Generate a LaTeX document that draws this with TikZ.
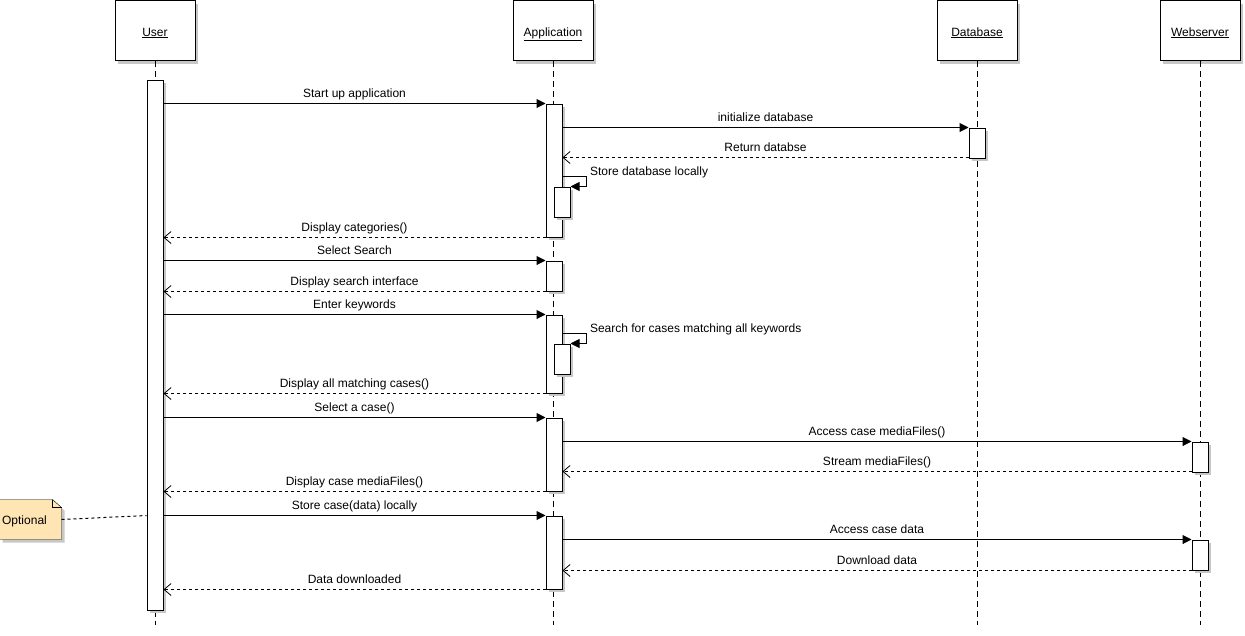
\documentclass[tikz,border=0pt]{standalone}
\usepackage{fontspec}
\setmainfont{Liberation Sans}
\usetikzlibrary{arrows.meta,shadows,backgrounds}
\definecolor{notefill}{HTML}{FFE5B4}
\tikzset{
  shd/.style={general shadow={fill=black!22,shadow xshift=3pt,shadow yshift=-3pt}},
  head/.style={draw,fill=white,shd,minimum width=80pt,minimum height=60pt,inner sep=0,text height=13pt,text depth=2pt},
  bar/.style={draw,fill=white,shd,minimum width=16pt,inner sep=0},
  life/.style={dash pattern=on 6pt off 4pt},
  call/.style={-{Triangle[length=9pt,width=9pt]}},
  ret/.style={dash pattern=on 3pt off 3pt,-{Straight Barb[length=7pt,width=12pt,line width=.8pt]}},
  lbl/.style={above,inner sep=2.5pt,text depth=3pt},
  selflbl/.style={anchor=base west,inner sep=0,xshift=3pt,yshift=1pt},
  note/.style={minimum width=61pt,minimum height=39pt,inner sep=0,text height=12.5pt,text depth=2.5pt}
}
\begin{document}
\begin{tikzpicture}[x=1pt,y=-1pt,line width=1pt,font=\fontsize{12}{14}\selectfont]
\useasboundingbox (0,0) rectangle (1245,635);
\coordinate (bot) at (0,625);
\node[head] (user) at (155,30.5) {\underline{User}};
\node[head] (app) at (553,30.5) {\underline{Application}};
\node[head] (db) at (977,30.5) {\underline{Database}};
\node[head] (web) at (1200,30.5) {\underline{Webserver}};
\foreach \l in {user,app,db,web}
  \draw[life] (\l) -- (\l |- bot);

\node[bar,minimum height=530pt] (ub) at (155,345) {};
\node[bar,minimum height=133pt] (a1) at (554,170.5) {};
\node[bar,minimum height=30pt] (n1) at (562,202) {};
\node[bar,minimum height=30pt] (a2) at (554,276) {};
\node[bar,minimum height=78pt] (a3) at (554,354) {};
\node[bar,minimum height=30pt] (n2) at (562,359) {};
\node[bar,minimum height=73pt] (a4) at (554,454.5) {};
\node[bar,minimum height=73pt] (a5) at (554,552.5) {};
\node[bar,minimum height=30pt] (d1) at (977,143) {};
\node[bar,minimum height=30pt] (w1) at (1200,457) {};
\node[bar,minimum height=30pt] (w2) at (1200,555) {};

\draw[call] (a1.north west -| ub.east) -- node[lbl]{Start up application} (a1.north west);
\draw[call] (d1.north west -| a1.east) -- node[lbl]{initialize database} (d1.north west);
\draw[ret] ([yshift=1pt]d1.south west) -- node[lbl]{Return databse} ([yshift=1pt]d1.south west -| a1.east);
\draw[call] ([yshift=10pt]n1.north -| a1.east) -- ++(24,0) node[selflbl]{Store database locally} |- (n1.north east);
\draw[ret] (a1.south west) -- node[lbl]{Display categories()} (a1.south west -| ub.east);
\draw[call] (a2.north west -| ub.east) -- node[lbl]{Select Search} (a2.north west);
\draw[ret] (a2.south west) -- node[lbl]{Display search interface} (a2.south west -| ub.east);
\draw[call] (a3.north west -| ub.east) -- node[lbl]{Enter keywords} (a3.north west);
\draw[call] ([yshift=10pt]n2.north -| a3.east) -- ++(24,0) node[selflbl]{Search for cases matching all keywords} |- (n2.north east);
\draw[ret] (a3.south west) -- node[lbl]{Display all matching cases()} (a3.south west -| ub.east);
\draw[call] (a4.north west -| ub.east) -- node[lbl]{Select a case()} (a4.north west);
\draw[call] (w1.north west -| a4.east) -- node[lbl]{Access case mediaFiles()} (w1.north west);
\draw[ret] ([yshift=1pt]w1.south west) -- node[lbl]{Stream mediaFiles()} ([yshift=1pt]w1.south west -| a4.east);
\draw[ret] (a4.south west) -- node[lbl]{Display case mediaFiles()} (a4.south west -| ub.east);
\draw[call] (a5.north west -| ub.east) -- node[lbl]{Store case(data) locally} (a5.north west);
\draw[call] (w2.north west -| a5.east) -- node[lbl]{Access case data} (w2.north west);
\draw[ret] (w2.south west) -- node[lbl]{Download data} (w2.south west -| a5.east);
\draw[ret] (a5.south west) -- node[lbl]{Data downloaded} (a5.south west -| ub.east);

\node[note] (opt) at (30.5,519.5) {\hspace*{-12pt}Optional};
\begin{scope}[on background layer]
\draw[fill=notefill,shd] (opt.north west) -- ([xshift=-9pt]opt.north east) -- ([yshift=-8pt]opt.north east)
  -- (opt.south east) -- (opt.south west) -- cycle;
\draw ([xshift=-9pt]opt.north east) |- ([yshift=-8pt]opt.north east);
\end{scope}
\draw[dash pattern=on 3pt off 3pt] (opt.east) -- (ub.west |- a5.north);
\end{tikzpicture}
\end{document}
